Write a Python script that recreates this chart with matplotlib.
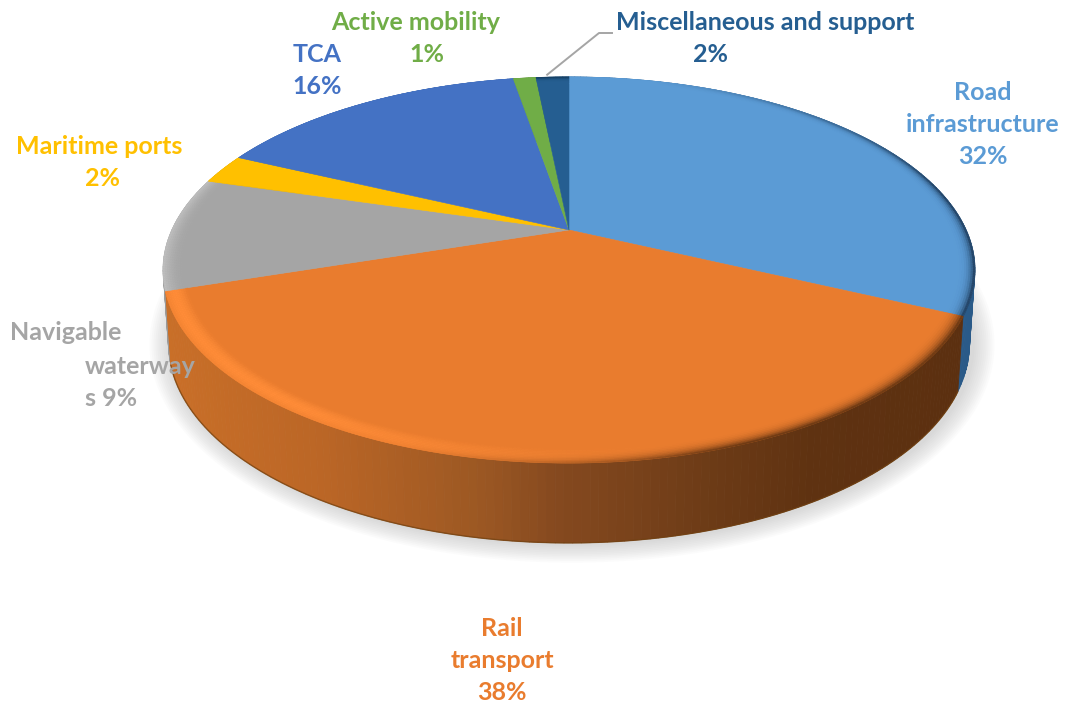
import numpy as np
import matplotlib
matplotlib.use("Agg")
import matplotlib.pyplot as plt
from matplotlib.collections import PolyCollection
from matplotlib.colors import to_rgb, LinearSegmentedColormap

categories = ["Road infrastructure", "Rail transport", "Navigable waterways",
              "Maritime ports", "TCA", "Active mobility", "Miscellaneous and support"]
values = [32.0, 38.0, 9.5, 2.5, 15.3, 1.1, 1.6]
colors = ["#5b9bd5", "#e97c2e", "#a5a5a5", "#ffc000", "#4472c4", "#70ad47", "#255e91"]
side_colors = ["#2a5a88", None, "#9a9a9a", "#b08800", "#2f5597", "#4e7a31", "#1a4266"]
label_lines = [
    [("Road", 983, 92, "center"), ("infrastructure", 983, 124, "center"), ("32%", 983, 157, "center")],
    [("Rail", 502, 628, "center"), ("transport", 502, 660, "center"), ("38%", 502, 693, "center")],
    [("Navigable", 10, 333, "left"), ("waterway", 85, 366, "left"), ("s 9%", 85, 399, "left")],
    [("Maritime ports", 99, 146, "center"), ("2%", 102, 179, "center")],
    [("TCA", 317, 54, "center"), ("16%", 317, 87, "center")],
    [("Active mobility", 416, 22, "center"), ("1%", 427, 54, "center")],
    [("Miscellaneous and support", 765, 22, "center"), ("2%", 711, 54, "center")],
]

plt.rcParams["font.family"] = ["Lato", "DejaVu Sans"]
fig = plt.figure(figsize=(10.67, 7.07), dpi=100)
ax = fig.add_axes([0, 0, 1, 1])
ax.set_xlim(0, 1067)
ax.set_ylim(707, 0)
ax.axis("off")

# perspective disc geometry
CX, CY, A, B, K = 569, 230, 397, 184.7, -0.207


def top(theta, r=1.0):
    u, v = r * np.sin(theta), -r * np.cos(theta)
    w = 1 + K * v
    return CX + A * u / w, CY + B * v / w


def bottom(theta):
    x, y = top(theta)
    v = -np.cos(theta)
    return CX + (x - CX) * 0.987, y + 72 + 8 * v


def mix(c1, c2, t):
    return tuple((1 - t) * np.array(to_rgb(c1)) + t * np.array(to_rgb(c2)))


edges = np.deg2rad(np.cumsum([0] + values) * 3.6)

# soft shadow below the disc
tt = np.linspace(0, 2 * np.pi, 361)
bx, by = bottom(tt)
ex = (bx.max() + bx.min()) / 2
ey = (by.max() + by.min()) / 2
for grow in np.arange(22, 0, -2):
    sx = (bx - ex) * (1 + grow / 400) + ex + 3
    sy = (by - ey) * (1 + grow / 235) + ey + 1
    ax.fill(sx, sy, color="#808080", alpha=0.028, lw=0, zorder=1)

# side wall
rail_cmap = LinearSegmentedColormap.from_list(
    "rail", [(0.0, "#c96f28"), (0.2, "#bb6626"), (0.4, "#9c5823"),
             (0.5, "#85491f"), (0.68, "#6e3c17"), (0.82, "#5f3211"), (1.0, "#5c3010")])
polys, cols = [], []
for i, (t0, t1) in enumerate(zip(edges[:-1], edges[1:])):
    n = max(2, int(np.degrees(t1 - t0)))
    th = np.linspace(t0, t1, n + 1)
    for a, b in zip(th[:-1], th[1:]):
        xa, ya = top(a)
        xb, yb = top(b)
        xc, yc = bottom(b)
        xd, yd = bottom(a)
        polys.append([(xa, ya), (xb, yb), (xc, yc), (xd, yd)])
        if side_colors[i] is None:
            cols.append(rail_cmap(float(np.clip((xa - 165) / 795, 0, 1)))[:3])
        else:
            cols.append(to_rgb(side_colors[i]))
order = np.argsort([p[0][1] for p in polys])
ax.add_collection(PolyCollection([polys[j] for j in order], facecolors=[cols[j] for j in order],
                                 edgecolors=[cols[j] for j in order], linewidths=0.6, zorder=2))

# dark line at the bottom of the rail wall
th = np.linspace(edges[1], edges[2], 140)
ax.plot(*bottom(th), color="#70400f", lw=1.0, alpha=0.7, zorder=3, solid_capstyle="round")

# top face
for i, (t0, t1) in enumerate(zip(edges[:-1], edges[1:])):
    th = np.linspace(t0, t1, max(3, int(np.degrees(t1 - t0)) * 2))
    x, y = top(th)
    ax.fill(np.r_[CX, x], np.r_[CY, y], color=colors[i], lw=0.4, zorder=4)


# bevelled rim on the top face
def rim_colour(i, deg, t):
    """Colour of the rim at angle deg and radial position t (0..1)."""
    if i == 0:
        return mix(colors[0], "#17324f", t ** 4 * float(np.clip((deg - 15) / 60, 0, 1)))
    if i == 1:
        dark = 1 - float(np.clip((deg - 160) / 40, 0, 1))
        bright = float(np.clip((deg - 165) / 50, 0, 1))
        base = mix(colors[1], "#5c3010", t ** 3 * dark)
        return mix(base, "#ff8c38", np.sin(np.pi * min(t / 1.2, 1)) * bright)
    if i == 2:
        return mix(colors[2], "#c4c4c4", t ** 2 * 0.85)
    if i == 6:
        return mix(colors[6], "#123a5c", t ** 4)
    return to_rgb(colors[i])


ring = np.linspace(0.95, 1.001, 11)
polys, cols = [], []
for i, (t0, t1) in enumerate(zip(edges[:-1], edges[1:])):
    n = max(2, int(np.degrees(t1 - t0) * 2))
    th = np.linspace(t0, t1, n + 1)
    for a, b in zip(th[:-1], th[1:]):
        mid = np.degrees((a + b) / 2)
        for r0, r1 in zip(ring[:-1], ring[1:]):
            xa, ya = top(a, r0)
            xb, yb = top(b, r0)
            xc, yc = top(b, r1)
            xd, yd = top(a, r1)
            polys.append([(xa, ya), (xb, yb), (xc, yc), (xd, yd)])
            cols.append(rim_colour(i, mid, ((r0 + r1) / 2 - ring[0]) / (ring[-1] - ring[0])))
ax.add_collection(PolyCollection(polys, facecolors=cols, edgecolors=cols, linewidths=0.3, zorder=5))

# leader line for the smallest right-hand label
lead_theta = edges[-2] + (edges[-1] - edges[-2]) * 0.35
lx, ly = top(lead_theta, 1.02)
ax.plot([lx, 599, 612], [ly, 33, 33], color="#a5a5a5", lw=1.4, zorder=6)

# labels
for lines, colour in zip(label_lines, colors):
    for text, x, y, ha in lines:
        ax.text(x, y, text, color=colour, fontsize=18, fontweight="bold",
                ha=ha, va="center", zorder=8)

fig.savefig("out.png", dpi=100, facecolor="white")
